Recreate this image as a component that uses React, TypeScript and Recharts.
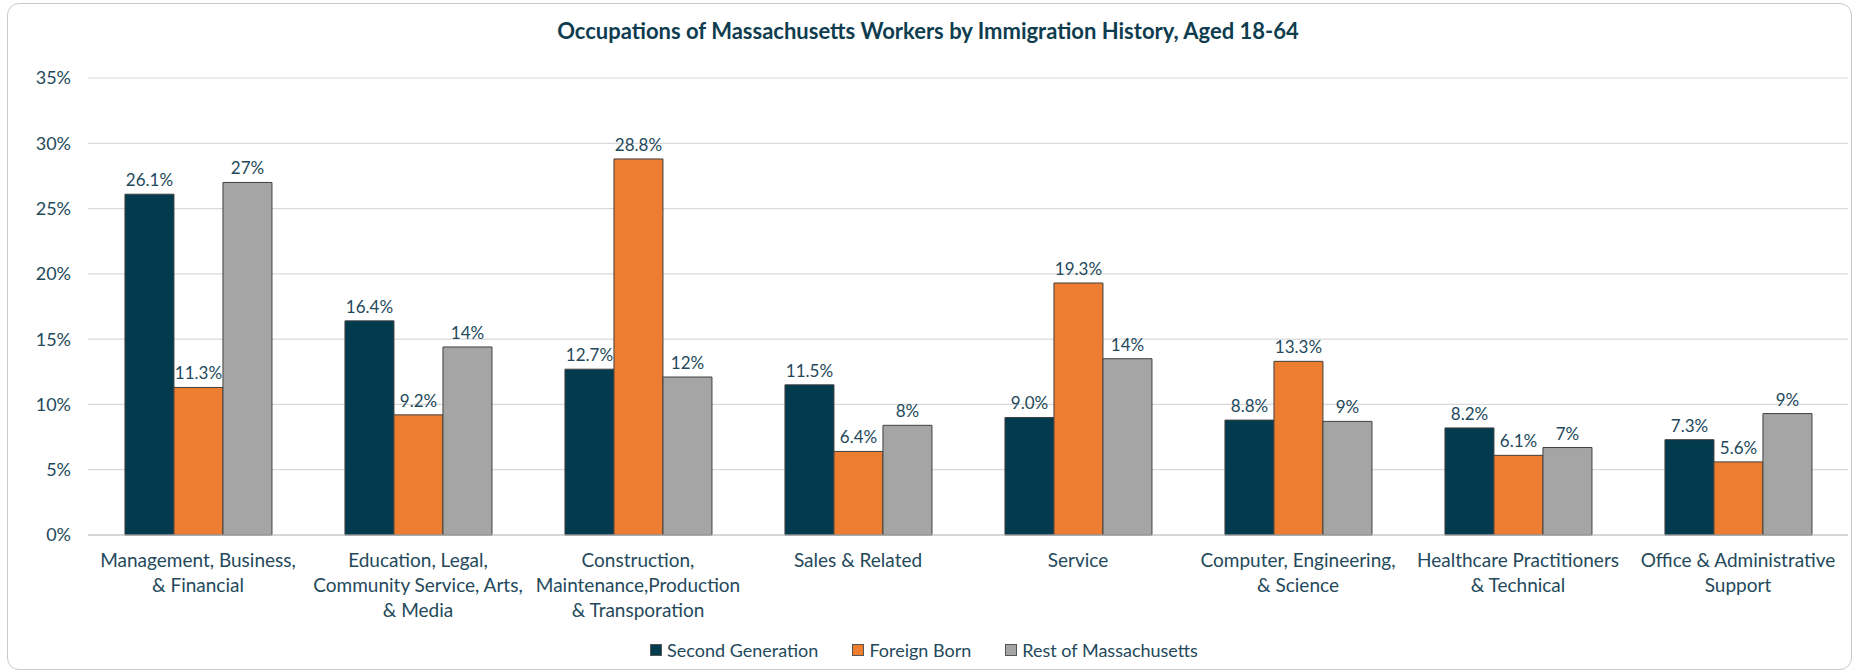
import React from "react";
import {
    Bar,
    BarChart,
    CartesianGrid,
    LabelList,
    Legend,
    XAxis,
    YAxis,
} from "recharts";

const categories = [
    "Management, Business,\n& Financial",
    "Education, Legal,\nCommunity Service, Arts,\n& Media",
    "Construction,\nMaintenance,Production\n& Transporation",
    "Sales & Related",
    "Service",
    "Computer, Engineering,\n& Science",
    "Healthcare Practitioners\n& Technical",
    "Office & Administrative\nSupport",
];

const secondGeneration = [26.1, 16.4, 12.7, 11.5, 9.0, 8.8, 8.2, 7.3];
const foreignBorn = [11.3, 9.2, 28.8, 6.4, 19.3, 13.3, 6.1, 5.6];
const restOfMassachusetts = [27.0, 14.4, 12.1, 8.4, 13.5, 8.7, 6.7, 9.3];

const yTicks = [0, 5, 10, 15, 20, 25, 30, 35];

const series = [
    { key: "second", name: "Second Generation", color: "#023a4e", digits: 1 },
    { key: "foreign", name: "Foreign Born", color: "#ed7d31", digits: 1 },
    { key: "rest", name: "Rest of Massachusetts", color: "#a5a5a5", digits: 0 },
];

const chartData = categories.map((category, i) => ({
    category,
    second: secondGeneration[i],
    foreign: foreignBorn[i],
    rest: restOfMassachusetts[i],
}));

const TEXT = "#24495b";
const FONT = "Lato, 'Open Sans', sans-serif";

function CategoryTick({ x, y, payload }: any) {
    const lines = String(payload.value).split("\n");
    return (
        <text
            x={x}
            y={y}
            textAnchor="middle"
            fill={TEXT}
            fontSize={19}
            fontFamily={FONT}
        >
            {lines.map((line, i) => (
                <tspan key={i} x={x} dy={i === 0 ? 32 : 25}>
                    {line}
                </tspan>
            ))}
        </text>
    );
}

function LegendContent() {
    return (
        <div
            style={{
                display: "flex",
                justifyContent: "center",
                gap: 34,
                fontFamily: FONT,
                fontSize: 18,
                color: TEXT,
                lineHeight: "24px",
            }}
        >
            {series.map((s) => (
                <div
                    key={s.key}
                    style={{ display: "flex", alignItems: "center", gap: 5 }}
                >
                    <span
                        style={{
                            width: 12,
                            height: 12,
                            background: s.color,
                            border: "1px solid #555",
                            boxSizing: "border-box",
                        }}
                    />
                    {s.name}
                </div>
            ))}
        </div>
    );
}

export default function App() {
    return (
        <div
            style={{
                position: "absolute",
                left: 0,
                top: 0,
                width: 1856,
                height: 672,
                background: "#ffffff",
                overflow: "hidden",
            }}
        >
            <div
                style={{
                    position: "absolute",
                    left: 7,
                    top: 3,
                    width: 1843,
                    height: 665,
                    border: "1.5px solid #c9c9c9",
                    borderRadius: 12,
                }}
            />
            <div
                style={{
                    position: "absolute",
                    left: 0,
                    top: 17,
                    width: 1856,
                    textAlign: "center",
                    fontFamily: FONT,
                    fontWeight: 700,
                    fontSize: 22,
                    color: "#0f3d50",
                }}
            >
                Occupations of Massachusetts Workers by Immigration History, Aged 18-64
            </div>
            <div style={{ position: "absolute", left: 0, top: 0 }}>
                <BarChart
                    width={1856}
                    height={672}
                    data={chartData}
                    margin={{ top: 78, right: 8, bottom: 10, left: 0 }}
                    barGap={0}
                    barCategoryGap="16.8%"
                >
                    <CartesianGrid
                        vertical={false}
                        stroke="#d9d9d9"
                        strokeWidth={1.2}
                    />
                    <XAxis
                        dataKey="category"
                        interval={0}
                        tickLine={false}
                        axisLine={{ stroke: "#bfbfbf", strokeWidth: 1.2 }}
                        tickSize={0}
                        tickMargin={0}
                        height={103}
                        tick={<CategoryTick />}
                    />
                    <YAxis
                        width={88}
                        domain={[0, 35]}
                        ticks={yTicks}
                        axisLine={false}
                        tickLine={false}
                        tickSize={0}
                        tickMargin={17}
                        tickFormatter={(v: number) => `${v}%`}
                        tick={{ fill: TEXT, fontSize: 18, fontFamily: FONT }}
                    />
                    <Legend verticalAlign="bottom" content={<LegendContent />} />
                    {series.map((s) => (
                        <Bar
                            key={s.key}
                            dataKey={s.key}
                            name={s.name}
                            fill={s.color}
                            stroke="#404040"
                            strokeWidth={1}
                            isAnimationActive={false}
                        >
                            <LabelList
                                dataKey={s.key}
                                position="top"
                                offset={8}
                                fill={TEXT}
                                fontSize={17}
                                fontFamily={FONT}
                                formatter={(v: any) =>
                                    `${Number(v).toFixed(s.digits)}%`
                                }
                            />
                        </Bar>
                    ))}
                </BarChart>
            </div>
        </div>
    );
}
